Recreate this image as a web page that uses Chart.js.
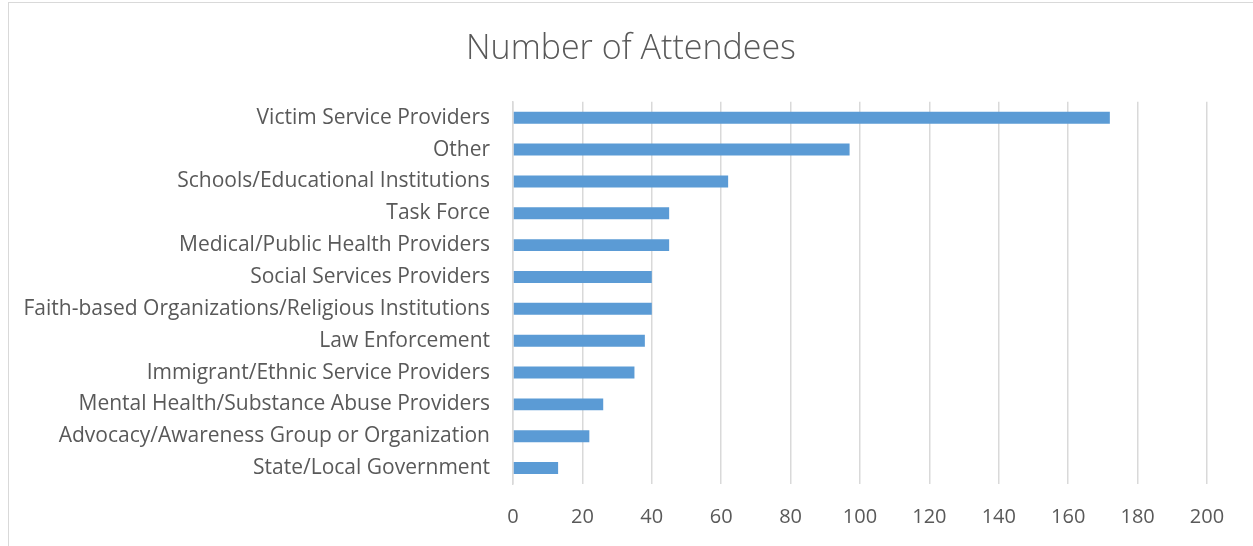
<!DOCTYPE html>
<html>
<head>
<meta charset="utf-8">
<script src="https://cdn.jsdelivr.net/npm/chart.js@4"></script>
<style>
html,body{margin:0;padding:0;background:#fff;}
#wrap{position:relative;width:1253px;height:546px;}
#frame{position:absolute;left:8px;top:2px;width:1260px;height:560px;border:1px solid #D9D9D9;box-sizing:border-box;}
canvas{position:absolute;left:0;top:0;}
</style>
</head>
<body>
<div id="wrap">
<div id="frame"></div>
<canvas id="c" width="1253" height="546"></canvas>
</div>
<script>
const categories = [
  "Victim Service Providers",
  "Other",
  "Schools/Educational Institutions",
  "Task Force",
  "Medical/Public Health Providers",
  "Social Services Providers",
  "Faith-based Organizations/Religious Institutions",
  "Law Enforcement",
  "Immigrant/Ethnic Service Providers",
  "Mental Health/Substance Abuse Providers",
  "Advocacy/Awareness Group or Organization",
  "State/Local Government"
];
const attendees = [172, 97, 62, 45, 45, 40, 40, 38, 35, 26, 22, 13];
const xTicks = [0, 20, 40, 60, 80, 100, 120, 140, 160, 180, 200];
const chartTitle = "Number of Attendees";

const textColor = "#595959";
const gridColor = "#D9D9D9";

new Chart(document.getElementById("c"), {
  type: "bar",
  data: {
    labels: categories,
    datasets: [{
      label: chartTitle,
      data: attendees,
      backgroundColor: "#5B9BD5",
      borderWidth: 0,
      barPercentage: 0.75,
      categoryPercentage: 0.5
    }]
  },
  options: {
    indexAxis: "y",
    responsive: false,
    animation: false,
    layout: { padding: { left: 9, right: 0, top: 0, bottom: 0 } },
    plugins: {
      legend: { display: false },
      tooltip: { enabled: false },
      title: {
        display: true,
        text: chartTitle,
        color: textColor,
        font: { family: "'Open Sans'", size: 34, weight: "300" },
        padding: { top: 29, bottom: 32 }
      }
    },
    scales: {
      x: {
        min: 0,
        max: 200,
        afterBuildTicks: (s) => { s.ticks = xTicks.map(v => ({ value: v })); },
        grid: { color: gridColor, lineWidth: 1.5, drawTicks: false },
        border: { display: false },
        ticks: {
          color: textColor,
          font: { family: "'Open Sans'", size: 20 },
          padding: 21
        },
        afterFit: (s) => { s.height = 62; }
      },
      y: {
        grid: { display: false },
        border: { display: true, color: gridColor, width: 1.5 },
        ticks: {
          color: textColor,
          font: { family: "'Open Sans'", size: 21 },
          padding: 15,
          autoSkip: false
        },
        afterFit: (s) => { s.width = 504; }
      },
      yRightSpace: {
        type: "category",
        position: "right",
        display: true,
        grid: { display: false },
        border: { display: false },
        ticks: { display: false },
        afterFit: (s) => { s.width = 46; }
      }
    }
  }
});
</script>
</body>
</html>
